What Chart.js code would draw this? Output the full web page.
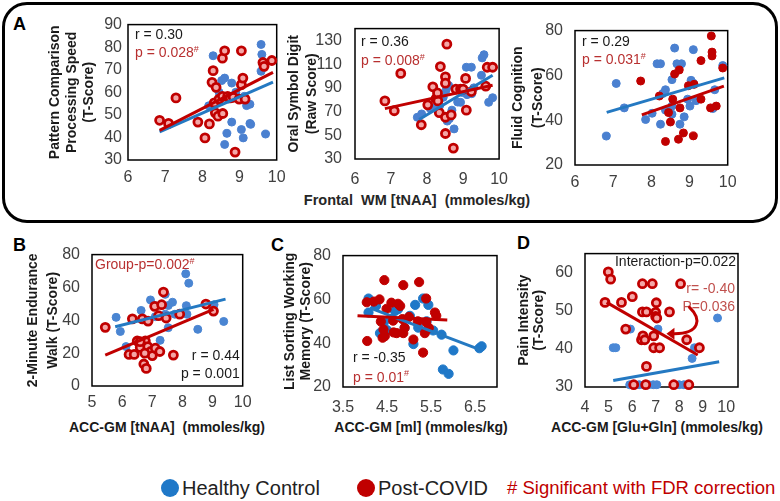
<!DOCTYPE html>
<html><head><meta charset="utf-8">
<script src="https://cdn.jsdelivr.net/npm/chart.js@4/dist/chart.umd.min.js"></script>
<style>
html,body{margin:0;padding:0;background:#fff;}
body{width:780px;height:501px;position:relative;overflow:hidden;font-family:'Liberation Sans',Arial,sans-serif;}
canvas{position:absolute;}
.t{position:absolute;white-space:nowrap;}
.xt{position:absolute;white-space:nowrap;text-align:center;font-weight:bold;font-size:14px;line-height:18px;color:#1a1a1a;}
.lt{position:absolute;font-weight:bold;font-size:18px;line-height:20px;color:#000;}
.dot{position:absolute;width:18px;height:18px;border-radius:50%;}
</style></head><body>
<div style="position:absolute;left:2px;top:2px;width:770px;height:215px;border:3px solid #000;border-radius:25px;"></div>
<div class="lt" style="left:13px;top:14px;">A</div>
<div class="lt" style="left:13px;top:235px;">B</div>
<div class="lt" style="left:271px;top:235px;">C</div>
<div class="lt" style="left:517px;top:233px;">D</div>
<div class="xt" style="left:267px;top:191px;width:300px;font-size:14.5px;color:#262626;">Frontal&nbsp; WM [tNAA]&nbsp; (mmoles/kg)</div>
<div class="xt" style="left:47px;top:418px;width:240px;">ACC-GM [tNAA]&nbsp; (mmoles/kg)</div>
<div class="xt" style="left:301px;top:418px;width:240px;">ACC-GM [ml] (mmoles/kg)</div>
<div class="xt" style="left:537px;top:418px;width:240px;">ACC-GM [Glu+Gln] (mmoles/kg)</div>
<div class="dot" style="left:161px;top:479px;background:#1f78c8;"></div>
<div class="t" style="left:182px;top:476px;font-size:20px;line-height:24px;color:#222;">Healthy Control</div>
<div class="dot" style="left:357px;top:479px;background:#c00000;"></div>
<div class="t" style="left:378px;top:476px;font-size:20px;line-height:24px;color:#222;">Post-COVID</div>
<div class="t" style="left:507px;top:476px;font-size:18.5px;line-height:24px;color:#c00000;"># Significant with FDR correction</div>
<script>
// ---------------- DATA ----------------
const xTicksA = [6, 7, 8, 9, 10];
const yTicksA1 = [30, 40, 50, 60, 70, 80, 90];
const yTicksA2 = [30, 50, 70, 90, 110, 130];
const yTicksA3 = [20, 40, 60, 80];
const xTicksB = [5, 6, 7, 8, 9, 10];
const yTicksB = [0, 20, 40, 60, 80];
const xTicksC = [3.5, 4.5, 5.5, 6.5];
const yTicksC = [20, 40, 60, 80];
const xTicksD = [4, 5, 6, 7, 8, 9, 10];
const yTicksD = [30, 40, 50, 60];

// A1: Pattern Comparison Processing Speed vs Frontal WM tNAA
const a1Healthy = [[8.17,54],[8.29,76.2],[8.4,56],[8.45,60],[8.52,65.2],[8.6,66.3],[8.6,36.9],[8.66,41.8],[8.7,57],[8.79,64.1],[8.79,46.8],[8.9,60],[9.05,43.5],[9.1,39.8],[9.13,58.2],[9.19,54.1],[9.28,46.2],[9.28,54.7],[9.3,45.8],[9.58,81.2],[9.6,76.8],[9.58,69.3],[9.7,41.5]];
const a1PostCovid = [[6.85,47.6],[7.09,46.2],[7.29,57.5],[7.88,46.8],[8.07,39.8],[8.19,46],[8.26,64.4],[8.29,69.6],[8.32,55.3],[8.35,50.9],[8.37,62.2],[8.42,49.4],[8.45,57],[8.54,58.2],[8.55,50.6],[8.54,75.1],[8.6,78.4],[8.68,58.2],[8.75,57.5],[8.83,57.8],[8.88,33.5],[8.99,57],[9.05,78.4],[9.05,63.4],[9.09,66.3],[9.15,57],[9.63,73.2],[9.66,71.5],[9.87,74.1]];
const a1HealthyFit = [[6.85,42.5],[9.9,64.5]];
const a1PostCovidFit = [[6.85,43.1],[9.9,68.8]];

// A2: Oral Symbol Digit vs Frontal WM tNAA
const a2Healthy = [[7.73,65.2],[7.85,68],[8.09,72.5],[8.22,73.1],[8.35,75.1],[8.45,82],[8.53,88.3],[8.56,62],[8.62,64],[8.69,71.2],[8.75,55.4],[8.85,78],[8.93,77.8],[8.98,86.1],[9.09,107.4],[9.11,84.3],[9.23,107.4],[9.24,85.1],[9.3,90],[9.51,100.6],[9.53,115.3],[9.58,118],[9.71,77.8],[9.82,81.7],[8.6,92]];
const a2PostCovid = [[6.83,79],[7.09,70.7],[7.27,102.2],[7.84,58.9],[8.02,75.7],[8.16,90.9],[8.25,80.9],[8.29,85.7],[8.34,69.1],[8.37,108],[8.51,99.3],[8.51,94],[8.51,65.2],[8.51,51.5],[8.55,126.9],[8.67,67.2],[8.73,39.2],[8.8,89],[8.93,89],[9.07,98],[9.09,71.2],[9.23,86.9],[9.63,91.4],[9.67,107.4],[9.82,107.4],[8.3,79],[9.0,89]];
const a2HealthyFit = [[7.78,63.3],[9.82,100.6]];
const a2PostCovidFit = [[6.83,72.5],[9.82,92.2]];

// A3: Fluid Cognition vs Frontal WM tNAA
const a3Healthy = [[6.82,32.9],[7.08,56.4],[7.29,45.5],[7.85,40.3],[8.02,43.1],[8.15,65.2],[8.24,65.2],[8.24,38.2],[8.3,51.9],[8.37,53.6],[8.37,44.5],[8.54,58.1],[8.54,46.3],[8.54,42.7],[8.61,72.2],[8.67,65.2],[8.75,38.2],[8.79,65.2],[8.86,41.5],[8.95,49.4],[9.01,46.3],[9.04,57.8],[9.1,71.5],[9.1,56.5],[9.17,48.7],[9.61,45.2],[9.66,53.6],[9.87,64.4]];
const a3PostCovid = [[7.72,57.5],[8.21,50.8],[8.37,30.5],[8.45,43.4],[8.5,39.2],[8.56,49.4],[8.61,60.6],[8.71,31.5],[8.73,62.4],[8.75,45.5],[8.84,34.3],[8.97,55.4],[9.1,33],[9.12,56],[9.3,66.6],[9.3,49.4],[9.55,45.5],[9.57,77.6],[9.59,70.4],[9.59,68.7],[9.7,46.3],[9.87,63.3]];
const a3HealthyFit = [[6.83,43.5],[9.91,58.9]];
const a3PostCovidFit = [[7.75,42.4],[9.9,55.2]];

// B: 2-Minute Endurance Walk vs ACC-GM tNAA
const bHealthy = [[5.8,41.8],[5.94,33.2],[6.13,24],[6.63,46],[6.94,52.4],[7.07,49.1],[7.1,42.2],[7.26,27.8],[7.43,55.8],[7.43,43.7],[7.53,35.5],[7.53,49],[7.67,51],[7.75,43.7],[8.11,68.3],[8.13,48.9],[8.15,43.7],[8.21,62.6],[8.51,34.5],[9.05,49.5],[9.37,39.3]];
const bPostCovid = [[5.44,35.7],[6.23,19.2],[6.4,19.2],[6.34,40.9],[6.5,27.4],[6.6,23.5],[6.67,40.9],[6.72,13.4],[6.8,10.7],[6.77,27.4],[6.86,39.5],[6.85,24],[6.95,21],[7.0,18.5],[7.08,48.5],[7.1,23],[7.21,42.8],[7.25,21],[7.31,49.5],[7.37,57.2],[7.46,41.4],[7.7,18.8],[7.91,43.7],[8.78,49.9],[9.03,45.6],[6.6,27],[6.75,20]];
const bHealthyFit = [[5.77,36.1],[9.43,52.9]];
const bPostCovidFit = [[5.44,18.8],[9.03,46.6]];

// C: List Sorting Working Memory vs ACC-GM mI
const cHealthy = [[4.08,60.4],[4.08,54],[4.25,57],[4.34,44.6],[4.43,49.6],[4.5,46],[4.61,51.1],[4.68,54.7],[4.75,55.5],[4.9,47],[5.02,52.5],[5.1,39.6],[5.14,57.5],[5.21,47.1],[5.32,60.4],[5.44,57.5],[5.4,50],[5.55,45.8],[5.74,43.9],[6.01,36.7],[5.77,28],[5.9,26],[6.6,37.7],[6.65,38.6]];
const cPostCovid = [[4.04,58.7],[4.05,41],[4.2,59],[4.33,60],[4.36,49.9],[4.42,46.3],[4.45,43.2],[4.4,42.5],[4.44,68.8],[4.49,55.7],[4.6,58.5],[4.64,50.3],[4.65,44.9],[4.72,44.6],[4.75,58],[4.8,57],[4.85,51],[4.87,44.6],[4.87,66.5],[4.9,47],[5.1,41.7],[5.2,50],[5.23,67.9],[5.32,35.7],[5.36,44.6],[5.39,60.4],[5.39,49.6],[5.45,47],[5.59,54],[5.62,52.5],[5.0,52]];
const cHealthyFit = [[4.11,56.1],[6.61,37.1]];
const cPostCovidFit = [[3.83,52.5],[5.87,50.6]];

// D: Pain Intensity vs ACC-GM Glu+Gln
const dHealthy = [[5.2,40.3],[5.31,40.3],[5.93,45.2],[5.9,30.6],[6.1,30.6],[6.3,30.6],[6.5,30.6],[6.7,30.6],[6.9,30.6],[7.05,30.6],[7.1,45.2],[8.0,30.6],[8.2,30.6],[8.55,37.5],[8.65,40.3],[9.63,48.1]];
const dPostCovid = [[4.85,52.2],[4.99,60.2],[5.09,58.3],[5.55,52.2],[5.73,45.2],[6.01,53.7],[6.07,30.6],[6.4,42.4],[6.44,57.1],[6.44,49.7],[6.46,43.4],[6.54,42.4],[6.58,30.6],[6.61,49.7],[6.61,35.4],[6.86,57.1],[6.92,43.4],[6.92,40.3],[7.0,49.6],[7.0,48.5],[7.03,52.1],[7.05,48.1],[7.17,40.3],[7.59,49.7],[7.77,30.6],[8.06,57.1],[8.32,42.4],[8.41,30.6],[8.86,40.3]];
const dHealthyFit = [[5.2,31.7],[9.7,36.6]];
const dPostCovidFit = [[4.92,52.2],[8.79,38.4]];
const dArrow = [[8.44,50.9],[8.95,47.9],[8.9,44.0],[7.8,44.0]];

// ---------------- STYLE ----------------
const FONT = "'Liberation Sans', Arial, sans-serif";
const TICK = '#404040', TITLE = '#1a1a1a', BLACK_T = '#1a1a1a', RED_T = '#b83030', RED_T2 = '#c0504d';
const BLUE_LINE = '#2479c2', RED_LINE = '#c00000';

const pts = arr => arr.map(([x, y]) => ({x, y}));

function makePlugin(o) {
  return {
    id: 'deco',
    beforeDatasetsDraw(chart) {
      const {ctx, chartArea: a} = chart;
      ctx.save(); ctx.strokeStyle = '#000'; ctx.lineWidth = 1.5;
      ctx.strokeRect(a.left, a.top, a.right - a.left, a.bottom - a.top);
      ctx.restore();
    },
    afterDatasetsDraw(chart) {
      const {ctx, chartArea: a, scales} = chart;
      (o.notes || []).forEach(n => {
        ctx.save();
        ctx.textBaseline = 'middle'; ctx.textAlign = 'left';
        const widths = n.segs.map(s => { ctx.font = (s[2] ? '9px ' : '14px ') + FONT; return ctx.measureText(s[0]).width; });
        const total = widths.reduce((p, c) => p + c, 0);
        let px = n.align === 'right' ? a.right + n.dx - total : a.left + n.dx;
        const py = n.from === 'bottom' ? a.bottom + n.dy : a.top + n.dy;
        n.segs.forEach((s, i) => {
          ctx.font = (s[2] ? '9px ' : '14px ') + FONT; ctx.fillStyle = s[1];
          ctx.fillText(s[0], px, s[2] ? py - 4 : py); px += widths[i];
        });
        ctx.restore();
      });
      if (o.arrow) {
        const p = o.arrow.map(([vx, vy]) => [scales.x.getPixelForValue(vx), scales.y.getPixelForValue(vy)]);
        ctx.save();
        ctx.strokeStyle = '#c00000'; ctx.fillStyle = '#c00000'; ctx.lineWidth = 3; ctx.lineCap = 'round';
        ctx.beginPath(); ctx.moveTo(p[0][0], p[0][1]);
        ctx.bezierCurveTo(p[1][0], p[1][1], p[2][0], p[2][1], p[3][0], p[3][1]); ctx.stroke();
        const [ex, ey] = p[3], [cx, cy] = p[2];
        const ang = Math.atan2(ey - cy, ex - cx);
        const c = Math.cos(ang), s = Math.sin(ang);
        ctx.beginPath();
        ctx.moveTo(ex + 8 * c, ey + 8 * s);
        ctx.lineTo(ex - 6 * s, ey + 6 * c);
        ctx.lineTo(ex + 6 * s, ey - 6 * c);
        ctx.closePath(); ctx.fill();
        ctx.restore();
      }
    }
  };
}

function buildPanel(o) {
  const lh = o.titleLH;
  const cl = Math.round(o.titleX - 2 - lh / 2);
  const ct = o.box.T - 14;
  const W = o.box.R + 14 - cl;
  const H = o.bottom - ct;
  const YW = o.box.L - cl;
  const XH = o.bottom - o.box.B;
  const cv = document.createElement('canvas');
  cv.width = W; cv.height = H;
  Object.assign(cv.style, {left: cl + 'px', top: ct + 'px', width: W + 'px', height: H + 'px'});
  document.body.appendChild(cv);
  const st = o.style;
  new Chart(cv.getContext('2d'), {
    type: 'scatter',
    data: {
      datasets: [
        {label: 'Post-COVID trend', data: pts(o.postFit), showLine: true, borderColor: RED_LINE, borderWidth: 3, pointRadius: 0, order: 0, clip: false},
        {label: 'Healthy Control trend', data: pts(o.healthyFit), showLine: true, borderColor: BLUE_LINE, borderWidth: 3, pointRadius: 0, order: 1, clip: false},
        {label: 'Post-COVID', data: pts(o.post), pointRadius: st.r, pointBackgroundColor: st.redFill, pointBorderColor: '#c00000', pointBorderWidth: st.redBW, order: 2, clip: false},
        {label: 'Healthy Control', data: pts(o.healthy), pointRadius: st.r, pointBackgroundColor: st.blue, pointBorderColor: st.blue, pointBorderWidth: 1, order: 3, clip: false}
      ]
    },
    options: {
      responsive: false, animation: false, devicePixelRatio: 1,
      layout: {padding: {left: 0, top: 14, right: 14, bottom: 0}},
      plugins: {legend: {display: false}, tooltip: {enabled: false}},
      scales: {
        x: {
          type: 'linear', min: o.xRange[0], max: o.xRange[1],
          grid: {display: false, drawTicks: false}, border: {display: false},
          afterBuildTicks: s => { s.ticks = o.xTicks.map(v => ({value: v})); },
          afterFit: s => { s.height = XH; },
          ticks: {padding: o.xPad, font: {family: FONT, size: 16}, color: TICK, maxRotation: 0, autoSkip: false},
          title: {display: false}
        },
        y: {
          type: 'linear', min: o.yRange[0], max: o.yRange[1],
          grid: {display: false, drawTicks: false}, border: {display: false},
          afterBuildTicks: s => { s.ticks = o.yTicks.map(v => ({value: v})); },
          afterFit: s => { s.width = YW; },
          ticks: {padding: o.yPad, font: {family: FONT, size: 16}, color: TICK},
          title: {display: true, text: o.yTitle, color: TITLE, font: {family: FONT, size: 14, weight: 'bold', lineHeight: lh / 14}, padding: {top: 2, bottom: 0}}
        }
      }
    },
    plugins: [makePlugin(o)]
  });
}

const ringStyle = {r: 4, redFill: '#f4a6a6', redBW: 2.8, blue: '#4a80d0'};

buildPanel({
  box: {L: 128, T: 23, R: 280, B: 160}, bottom: 192, titleX: 55, titleLH: 17,
  xRange: [6, 10], yRange: [30, 90], xTicks: xTicksA, yTicks: yTicksA1, xPad: 8.4, yPad: 6,
  yTitle: ['Pattern Comparison', 'Processing Speed', '(T-Score)'],
  healthy: a1Healthy, post: a1PostCovid, healthyFit: a1HealthyFit, postFit: a1PostCovidFit,
  style: ringStyle,
  notes: [
    {segs: [['r = 0.30', BLACK_T]], dx: 7, dy: 11},
    {segs: [['p = 0.028', RED_T], ['#', RED_T, true]], dx: 7, dy: 29}
  ]
});
buildPanel({
  box: {L: 355, T: 20, R: 505, B: 159}, bottom: 192, titleX: 294, titleLH: 18,
  xRange: [6, 10], yRange: [30, 140], xTicks: xTicksA, yTicks: yTicksA2, xPad: 11, yPad: 13,
  yTitle: ['Oral Symbol Digit', '(Raw Score)'],
  healthy: a2Healthy, post: a2PostCovid, healthyFit: a2HealthyFit, postFit: a2PostCovidFit,
  style: ringStyle,
  notes: [
    {segs: [['r = 0.36', BLACK_T]], dx: 6, dy: 14},
    {segs: [['p = 0.008', RED_T], ['#', RED_T, true]], dx: 6, dy: 33}
  ]
});
buildPanel({
  box: {L: 575, T: 23, R: 731, B: 165}, bottom: 197, titleX: 518, titleLH: 20,
  xRange: [6, 10], yRange: [20, 80], xTicks: xTicksA, yTicks: yTicksA3, xPad: 8.4, yPad: 12,
  yTitle: ['Fluid Cognition', '(T-Score)'],
  healthy: a3Healthy, post: a3PostCovid, healthyFit: a3HealthyFit, postFit: a3PostCovidFit,
  style: {r: 4, redFill: '#c00000', redBW: 1, blue: '#4a80d0'},
  notes: [
    {segs: [['r = 0.29', BLACK_T]], dx: 7, dy: 12},
    {segs: [['p = 0.031', RED_T], ['#', RED_T, true]], dx: 7, dy: 30}
  ]
});
buildPanel({
  box: {L: 92, T: 247, R: 245, B: 386}, bottom: 440, titleX: 33, titleLH: 20,
  xRange: [5, 10], yRange: [0, 80], xTicks: xTicksB, yTicks: yTicksB, xPad: 7.4, yPad: 12,
  yTitle: ['2-Minute Endurance', 'Walk (T-Score)'],
  healthy: bHealthy, post: bPostCovid, healthyFit: bHealthyFit, postFit: bPostCovidFit,
  style: {r: 4, redFill: '#f4a6a6', redBW: 2.8, blue: '#4a85d2'},
  notes: [
    {segs: [['Group-p=0.002', RED_T], ['#', RED_T, true]], dx: 3, dy: 11},
    {segs: [['r = 0.44', BLACK_T]], align: 'right', dx: -3, dy: -30, from: 'bottom'},
    {segs: [['p = 0.001', BLACK_T]], align: 'right', dx: -3, dy: -12, from: 'bottom'}
  ]
});
buildPanel({
  box: {L: 343, T: 248, R: 497, B: 387}, bottom: 440, titleX: 290, titleLH: 16,
  xRange: [3.5, 7], yRange: [20, 80], xTicks: xTicksC, yTicks: yTicksC, xPad: 11, yPad: 12,
  yTitle: ['List Sorting Working', 'Memory (T-Score)'],
  healthy: cHealthy, post: cPostCovid, healthyFit: cHealthyFit, postFit: cPostCovidFit,
  style: {r: 4.6, redFill: '#c00000', redBW: 1, blue: '#1f78c8'},
  notes: [
    {segs: [['r = -0.35', BLACK_T]], dx: 10, dy: -29, from: 'bottom'},
    {segs: [['p = 0.01', RED_T], ['#', RED_T, true]], dx: 10, dy: -9, from: 'bottom'}
  ]
});
buildPanel({
  box: {L: 585, T: 246, R: 738, B: 387}, bottom: 440, titleX: 524, titleLH: 15,
  xRange: [4, 10.5], yRange: [30, 65], xTicks: xTicksD, yTicks: yTicksD, xPad: 11, yPad: 12,
  yTitle: ['Pain Intensity', '(T-Score)'],
  healthy: dHealthy, post: dPostCovid, healthyFit: dHealthyFit, postFit: dPostCovidFit,
  style: {r: 4, redFill: '#f4a6a6', redBW: 2.8, blue: '#4a88d6'},
  arrow: dArrow,
  notes: [
    {segs: [['Interaction-p=0.022', BLACK_T]], align: 'right', dx: -2, dy: 9},
    {segs: [['r= -0.40', RED_T2]], align: 'right', dx: -3, dy: 36},
    {segs: [['P=0.036', RED_T2]], align: 'right', dx: -3, dy: 54}
  ]
});
</script>
</body></html>
